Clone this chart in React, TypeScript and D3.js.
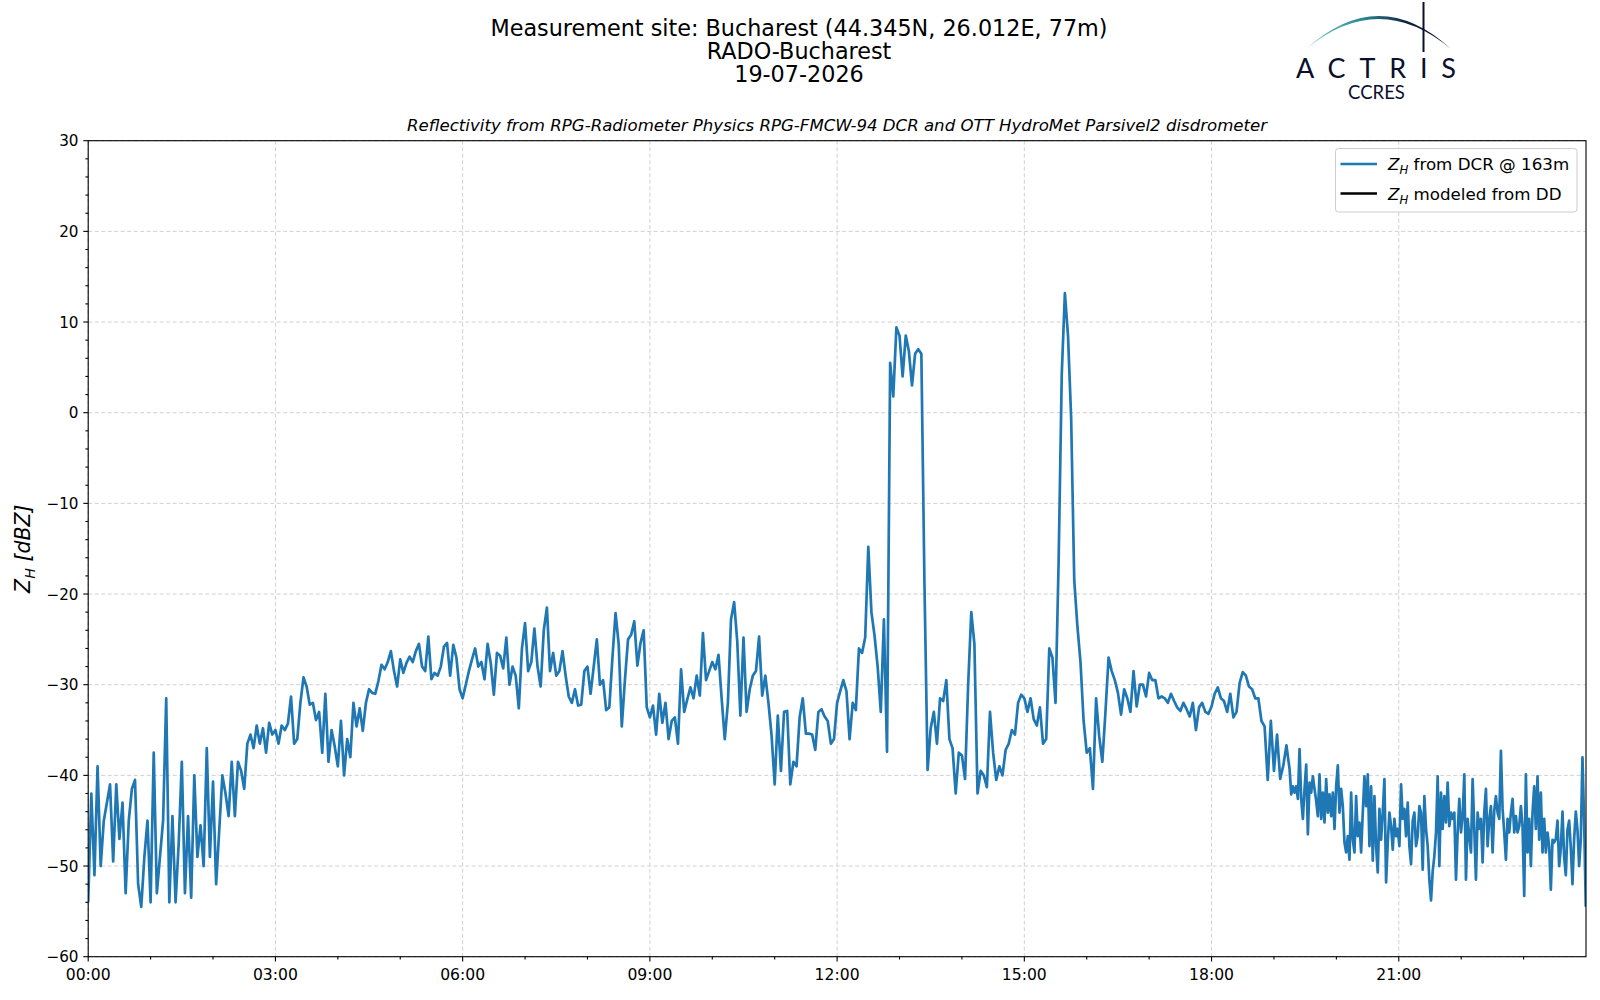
import React from "react";
import * as d3 from "d3";

// radar reflectivity at 163 m (dBZ)
// 00:00 - 19:12, one sample every 3 minutes, one array per 3-hour block
const zh00 = [
  -54, -42, -51, -39, -50, -45, -43, -41, -49.5, -41,
  -47, -43, -53, -45, -41.5, -40.5, -52, -54.5, -49, -45,
  -54, -37.5, -53, -49, -45, -31.5, -54, -44.5, -54, -47.5,
  -38.5, -53, -44.5, -53.5, -40, -49, -45.5, -50, -37, -49,
  -40.7, -52, -46, -40, -42, -44.5, -38.5, -44.5, -38.5, -39.5,
  -41.5, -36.5, -35.5, -37, -34.5, -36.5, -34.8, -37.5, -34.2, -35.5,
];
const zh03 = [
  -35, -36.5, -34.5, -35, -34.3, -31.3, -36.5, -36, -32, -29.2,
  -30.2, -32.2, -32, -33.9, -33, -37.5, -31, -38.5, -35, -36.8,
  -39, -34, -40, -36, -38, -32, -34.6, -32.6, -35.1, -32,
  -30.5, -30.9, -31, -29.6, -27.8, -28.3, -27.5, -26.3, -28.5, -30.2,
  -27.2, -28.7, -27.6, -26.9, -27.5, -26.3, -25.5, -28, -28.5, -24.7,
  -29.4, -28.7, -29, -28, -25.8, -25.4, -29, -25.6, -27, -30.5,
];
const zh06 = [
  -31.5, -30, -28.5, -27.2, -26, -28, -27.5, -29.4, -25.5, -27.6,
  -31.1, -26.5, -26.8, -28.2, -24.8, -30, -28, -29, -32.6, -26,
  -23.2, -28.5, -27.5, -23.8, -28, -30.2, -24, -21.5, -28.5, -26.5,
  -29, -28.5, -26.3, -29, -31.3, -32, -30.5, -32.3, -32.2, -28.5,
  -28, -31, -28, -25, -30, -29.5, -32.8, -32.5, -27, -22.1,
  -25.5, -34.6, -29.5, -25, -24.5, -23, -27.9, -25.4, -24, -32.5,
];
const zh09 = [
  -33.6, -32.3, -35.5, -31, -34.2, -32, -36, -34, -33.6, -36.5,
  -28.3, -33, -31.6, -30.3, -31.5, -29, -31.2, -24.3, -29.5, -28.5,
  -27.5, -28.3, -26.7, -31.5, -36, -32, -22.8, -20.9, -25.2, -33.4,
  -24.8, -33, -30.5, -29, -28.5, -24.7, -31.2, -29, -32, -35.6,
  -41, -33.4, -39.5, -33, -32.9, -41, -38.5, -39, -33.6, -31.5,
  -35.4, -35.4, -35.5, -37.2, -33, -32.7, -33.5, -34, -36.5, -36,
];
const zh12 = [
  -32, -30.7, -29.5, -30.7, -36, -32, -32.8, -26, -26.5, -24.8,
  -14.8, -22, -24.6, -28, -33, -22.8, -37.4, 5.5, 1.8, 9.4,
  8.5, 4, 8.5, 6.8, 3, 6.5, 7, 6.5, -19, -39.4,
  -34.8, -33, -36.5, -31.5, -31.8, -29.5, -36, -37, -42, -37.5,
  -37.8, -40.4, -30, -22, -25.5, -42, -39.5, -40, -41.3, -33,
  -37.5, -40.5, -39, -40, -37.2, -36.5, -35, -35.5, -32, -31.1,
];
const zh15 = [
  -31.5, -33, -31.5, -33.8, -34.5, -32.5, -36.5, -36, -26, -27,
  -32, -16.3, 4.3, 13.2, 8.5, -0.5, -18.5, -23.5, -27.5, -34,
  -37.5, -37, -41.5, -31.5, -35.7, -38.5, -33, -27, -28.5, -29.5,
  -30.9, -33.3, -30.5, -31.5, -33, -28.5, -32.4, -30, -30, -31.3,
  -28.7, -29.5, -29.5, -31.5, -31.3, -31.5, -32, -31, -31.8, -32.5,
  -32.9, -32, -32.7, -33.5, -32, -35, -32.5, -32, -33, -33.2,
];
const zh18 = [
  -32.4, -31, -30.3, -31.5, -31.8, -33, -31, -33.6, -33, -29.8,
  -28.6, -29, -30.2, -30.5, -31.5, -31.5, -34, -34.6, -40.5, -34,
  -39.5, -35.5, -40.4, -38.9, -36.7,
];
// 19:15 - 24:00, one sample every 1.6 minutes
const zhEve = [
  -39.3, -42.1, -41.2, -41.9, -41.2, -42.6, -37.1, -42.6, -44.8, -41.5,
  -38.8, -46.5, -40.8, -41.9, -40.1, -41.5, -42.8, -44.5, -39.9, -44.8,
  -41.9, -45.2, -40.4, -44.1, -42.1, -44.5, -41.9, -45.9, -41.2, -38.9,
  -44.1, -41.5, -43.4, -47.4, -48.5, -46.7, -49.3, -41.9, -47.1, -48.5,
  -42.3, -46.7, -45.2, -48.5, -44.1, -40.1, -43.4, -39.9, -47.8, -41.2,
  -49.4, -42.3, -47.8, -50.7, -43.7, -47.1, -44.1, -40.4, -51.8, -47.4,
  -44.1, -45.6, -48.2, -44.8, -46.7, -45.9, -47.8, -41, -44.8, -43.7,
  -46.7, -43, -47.8, -49.8, -45, -44.1, -47.8, -46.7, -43.4, -44.1,
  -50.4, -42.3, -45.9, -47.8, -51.5, -53.8, -50.6, -48.9, -46.3, -40.1,
  -50, -41.9, -45.9, -42.3, -45.2, -40.8, -45.6, -44.1, -44.8, -44.1,
  -51.5, -46.3, -42.6, -46.3, -44.5, -39.9, -51.5, -44.8, -46.7, -48.5,
  -40.4, -45.9, -51.5, -44.1, -45.9, -44.8, -49.6, -44.1, -41.5, -47.8,
  -44.8, -43.4, -48.5, -43.9, -42.3, -44.1, -44.8, -37.3, -43.7, -46.3,
  -49.3, -44.8, -46.3, -44.1, -42.6, -46.3, -44.5, -46.3, -45.6, -43.4,
  -45.6, -53.3, -39.9, -48.5, -44.8, -50, -44.1, -41.2, -45.9, -40.1,
  -47.1, -41.9, -48.5, -44.8, -48.5, -46.3, -47.8, -52.6, -47.1, -47.4,
  -47, -45, -50, -48, -44, -49, -51, -46, -45, -48,
  -52, -47, -44, -46, -50, -47, -38, -45, -54.5,
];

const dayStepMin = 3;
const eveStartMin = 19.25 * 60;
const eveStepMin = 1.6;

const zhDay = [...zh00, ...zh03, ...zh06, ...zh09, ...zh12, ...zh15, ...zh18];
const dcrSeries = [
  ...zhDay.map((v, i) => ({ t: (i * dayStepMin) / 60, v })),
  ...zhEve.map((v, i) => ({ t: (eveStartMin + i * eveStepMin) / 60, v })),
];

const xTickHours = [0, 3, 6, 9, 12, 15, 18, 21];
const xTickLabels = ["00:00", "03:00", "06:00", "09:00", "12:00", "15:00", "18:00", "21:00"];
const yTicks = [-60, -50, -40, -30, -20, -10, 0, 10, 20, 30];

const titleLines = [
  "Measurement site: Bucharest (44.345N, 26.012E, 77m)",
  "RADO-Bucharest",
  "19-07-2026",
];
const subTitle =
  "Reflectivity from RPG-Radiometer Physics RPG-FMCW-94 DCR and OTT HydroMet Parsivel2 disdrometer";
const legendItems = [
  { rest: " from DCR @ 163m", color: "#1f77b4" },
  { rest: " modeled from DD", color: "#000000" },
];

const W = 1600;
const H = 1000;
const M = { left: 88.2, right: 1586, top: 140.7, bottom: 956.7 };
const FONT = "DejaVu Sans";

export default function App() {
  const x = d3.scaleLinear().domain([0, 24]).range([M.left, M.right]);
  const y = d3.scaleLinear().domain([-60, 30]).range([M.bottom, M.top]);

  const line = d3
    .line<{ t: number; v: number }>()
    .x((d) => x(d.t))
    .y((d) => y(d.v));

  const xMinor = d3.range(0, 25, 1).filter((h) => h % 3 !== 0);
  const yMinor = d3.range(-60, 31, 2).filter((v) => v % 10 !== 0);
  const midX = (M.left + M.right) / 2;
  const midY = (M.top + M.bottom) / 2;

  return (
    <svg
      width={W}
      height={H}
      style={{ position: "absolute", left: 0, top: 0, background: "#fff" }}
      fontFamily={FONT}
    >
      <defs>
        <linearGradient id="arcGrad" x1="1306" y1="0" x2="1451" y2="0" gradientUnits="userSpaceOnUse">
          <stop offset="0" stopColor="#7fd0cc" />
          <stop offset="0.4" stopColor="#2a8590" />
          <stop offset="0.7" stopColor="#10203f" />
          <stop offset="1" stopColor="#0b0f2e" />
        </linearGradient>
        <clipPath id="plotClip">
          <rect x={M.left} y={M.top} width={M.right - M.left} height={M.bottom - M.top} />
        </clipPath>
      </defs>

      {/* titles */}
      {titleLines.map((t, i) => (
        <text key={i} x={799} y={36 + i * 23} textAnchor="middle" fontSize={22.3} fill="#000">
          {t}
        </text>
      ))}
      <text x={midX} y={131} textAnchor="middle" fontSize={16.6} fontStyle="italic" fill="#000">
        {subTitle}
      </text>

      {/* logo */}
      <path d="M1306,49 Q1379,-17 1451,49 Q1379,-11 1306,49 Z" fill="url(#arcGrad)" />
      <line x1={1423.5} x2={1423.5} y1={2} y2={52} stroke="#0b0f2e" strokeWidth={2} />
      <text x={1296} y={77.5} fontFamily="Lato" fontSize={27} fill="#0b0f2e" textLength={160} lengthAdjust="spacing">
        ACTRIS
      </text>
      <text x={1376.5} y={99} fontFamily="Lato" fontSize={18.5} fill="#0b0f2e" textAnchor="middle">
        CCRES
      </text>

      {/* grid */}
      <g stroke="#d0d0d0" strokeWidth={1} strokeDasharray="4,2.5">
        {xTickHours.map((h) => (
          <line key={"gx" + h} x1={x(h)} x2={x(h)} y1={M.top} y2={M.bottom} />
        ))}
        {yTicks.map((v) => (
          <line key={"gy" + v} x1={M.left} x2={M.right} y1={y(v)} y2={y(v)} />
        ))}
      </g>

      {/* data */}
      <path
        d={line(dcrSeries) ?? ""}
        fill="none"
        stroke="#1f77b4"
        strokeWidth={2.7}
        strokeLinejoin="round"
        clipPath="url(#plotClip)"
      />

      {/* frame */}
      <rect
        x={M.left}
        y={M.top}
        width={M.right - M.left}
        height={M.bottom - M.top}
        fill="none"
        stroke="#000"
        strokeWidth={1.1}
      />

      {/* x axis */}
      <g stroke="#000" strokeWidth={1.1}>
        {xTickHours.map((h) => (
          <line key={"xt" + h} x1={x(h)} x2={x(h)} y1={M.bottom} y2={M.bottom + 4.9} />
        ))}
        {xMinor.map((h) => (
          <line key={"xm" + h} x1={x(h)} x2={x(h)} y1={M.bottom} y2={M.bottom + 2.8} />
        ))}
      </g>
      {xTickHours.map((h, i) => (
        <text key={"xl" + h} x={x(h)} y={980} textAnchor="middle" fontSize={15.6}>
          {xTickLabels[i]}
        </text>
      ))}

      {/* y axis */}
      <g stroke="#000" strokeWidth={1.1}>
        {yTicks.map((v) => (
          <line key={"yt" + v} x1={M.left - 4.9} x2={M.left} y1={y(v)} y2={y(v)} />
        ))}
        {yMinor.map((v) => (
          <line key={"ym" + v} x1={M.left - 2.8} x2={M.left} y1={y(v)} y2={y(v)} />
        ))}
      </g>
      {yTicks.map((v) => (
        <text key={"yl" + v} x={78.5} y={y(v) + 5.5} textAnchor="end" fontSize={15.2}>
          {v < 0 ? "\u2212" + Math.abs(v) : String(v)}
        </text>
      ))}
      <text
        transform={`translate(${30},${midY}) rotate(-90)`}
        textAnchor="middle"
        fontSize={20.5}
        fontStyle="italic"
      >
        Z<tspan fontSize={14.3} dy={5}>H</tspan>
        <tspan dy={-5}> [dBZ]</tspan>
      </text>

      {/* legend */}
      <rect x={1335.5} y={148.5} width={241.5} height={63.5} rx={3} fill="#fff" fillOpacity={0.8} stroke="#cccccc" />
      {legendItems.map((it, i) => {
        const ly = 164 + i * 29.5;
        return (
          <g key={i}>
            <line x1={1340.5} x2={1377} y1={ly} y2={ly} stroke={it.color} strokeWidth={2.7} />
            <text x={1388} y={ly + 6} fontSize={16.7}>
              <tspan fontStyle="italic">Z</tspan>
              <tspan fontStyle="italic" fontSize={11.7} dy={4}>H</tspan>
              <tspan dy={-4}>{it.rest}</tspan>
            </text>
          </g>
        );
      })}
    </svg>
  );
}
